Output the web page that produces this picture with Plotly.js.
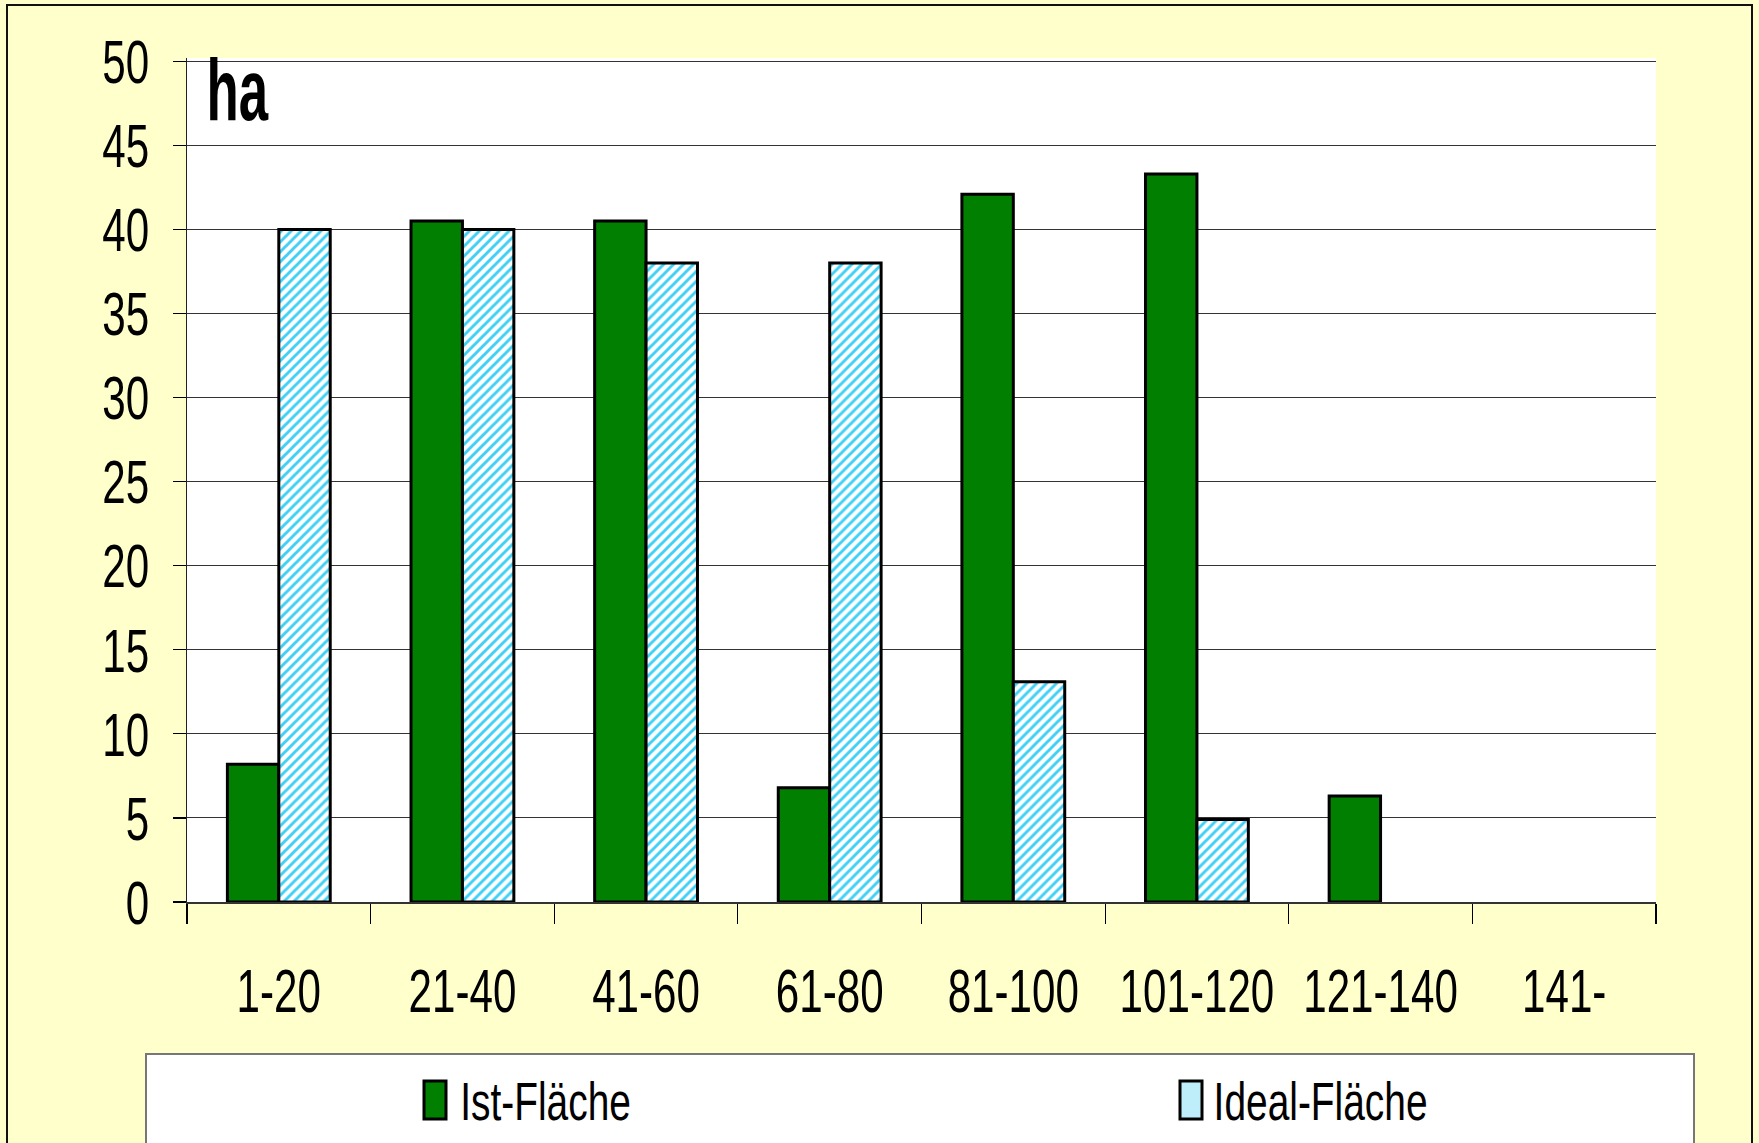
<!DOCTYPE html>
<html><head><meta charset="utf-8">
<script src="https://cdn.plot.ly/plotly-3.0.1.min.js"></script>
<style>html,body{margin:0;padding:0;background:#FFFFCC;overflow:hidden;}</style>
</head><body><div id="chart" style="width:1759px;height:1143px;"></div>
<script>
const categories = ['1-20','21-40','41-60','61-80','81-100','101-120','121-140','141-'];
const istValues = [8.2, 40.5, 40.5, 6.8, 42.1, 43.3, 6.3, null];
const idealValues = [40, 40, 38, 38, 13.1, 4.9, null, null];
const seriesNames = ['Ist-Fläche', 'Ideal-Fläche'];
const yTicks = [0, 5, 10, 15, 20, 25, 30, 35, 40, 45, 50];
const unitLabel = 'ha';

const FONT = '"Liberation Sans", Arial, sans-serif';
const W = 1759, H = 1143;
const L = 187, R = 1656, T = 58, B = 902;
const px = v => (v - L) / (R - L);
const py = v => (B - v) / (B - T);

const traces = [
  {
    type: 'bar', name: seriesNames[0], x: categories, y: istValues,
    marker: {color: '#007F00', line: {color: '#000', width: 3}},
    hoverinfo: 'x+y'
  },
  {
    type: 'bar', name: seriesNames[1], x: categories, y: idealValues,
    marker: {color: '#ffffff', line: {color: '#000', width: 3},
      pattern: {shape: '/', fgcolor: '#3fd0f5', bgcolor: '#ffffff', size: 7, solidity: 0.42, fillmode: 'replace'}},
    hoverinfo: 'x+y'
  }
];

const layout = {
  width: W, height: H,
  margin: {l: L, r: W - R, t: T, b: H - B, pad: 0},
  paper_bgcolor: '#FFFFCC', plot_bgcolor: '#FFFFFF',
  showlegend: false,
  barmode: 'group', bargap: 0.44, bargroupgap: 0,
  font: {family: FONT, color: '#000'},
  xaxis: {
    type: 'category', categoryorder: 'array', categoryarray: categories,
    showline: true, linecolor: '#333', linewidth: 1.5,
    ticks: 'outside', tickson: 'boundaries', ticklen: 20, tickwidth: 1.2, tickcolor: '#000',
    tickangle: 0,
    tickfont: {family: FONT, size: 62, color: '#000'},
    ticklabelstandoff: 34,
    showgrid: false, zeroline: false, fixedrange: true
  },
  yaxis: {
    range: [0, 50.2], tickvals: yTicks, ticktext: yTicks.map(String),
    showline: true, linecolor: '#222', linewidth: 1.5,
    ticks: 'outside', ticklen: 13, tickwidth: 1.2, tickcolor: '#000',
    tickfont: {family: FONT, size: 62, color: '#000'},
    ticklabelstandoff: 11,
    showgrid: true, gridcolor: '#333', gridwidth: 1,
    zeroline: false, fixedrange: true
  },
  shapes: [
    {type: 'rect', xref: 'paper', yref: 'paper', layer: 'below',
      x0: px(7), x1: px(1752), y0: py(5), y1: py(1180),
      line: {color: '#111', width: 2}, fillcolor: 'rgba(0,0,0,0)'},
    {type: 'rect', xref: 'paper', yref: 'paper', layer: 'above',
      x0: px(146), x1: px(1694), y0: py(1054), y1: py(1180),
      line: {color: '#777', width: 2}, fillcolor: '#FFFFFF'},
    {type: 'rect', xref: 'paper', yref: 'paper', layer: 'above',
      x0: px(424), x1: px(446), y0: py(1081), y1: py(1119),
      line: {color: '#000', width: 3}, fillcolor: '#007F00'},
    {type: 'rect', xref: 'paper', yref: 'paper', layer: 'above',
      x0: px(1180), x1: px(1202), y0: py(1081), y1: py(1119),
      line: {color: '#000', width: 3}, fillcolor: '#bfeefb'}
  ],
  annotations: [
    {text: '<b>' + unitLabel + '</b>', xref: 'paper', yref: 'paper', x: px(238), y: py(38),
      xanchor: 'center', yanchor: 'top', showarrow: false,
      font: {family: FONT, size: 88, color: '#000'}},
    {text: seriesNames[0], xref: 'paper', yref: 'paper', x: px(545), y: py(1101),
      xanchor: 'center', yanchor: 'middle', showarrow: false,
      font: {family: FONT, size: 54, color: '#000'}},
    {text: seriesNames[1], xref: 'paper', yref: 'paper', x: px(1320), y: py(1101),
      xanchor: 'center', yanchor: 'middle', showarrow: false,
      font: {family: FONT, size: 54, color: '#000'}}
  ]
};

function condense(el, factor) {
  const w = el.getComputedTextLength();
  el.setAttribute('textLength', (w * factor).toFixed(1));
  el.setAttribute('lengthAdjust', 'spacingAndGlyphs');
}

Plotly.newPlot('chart', traces, layout, {displayModeBar: false, staticPlot: true}).then(gd => {
  gd.querySelectorAll('.xtick text, .ytick text').forEach(t => condense(t, 0.68));
  const ann = gd.querySelectorAll('.annotation-text');
  ann.forEach((t, i) => condense(t, i === 0 ? 0.6 : 0.72));
});
</script>
</body></html>
